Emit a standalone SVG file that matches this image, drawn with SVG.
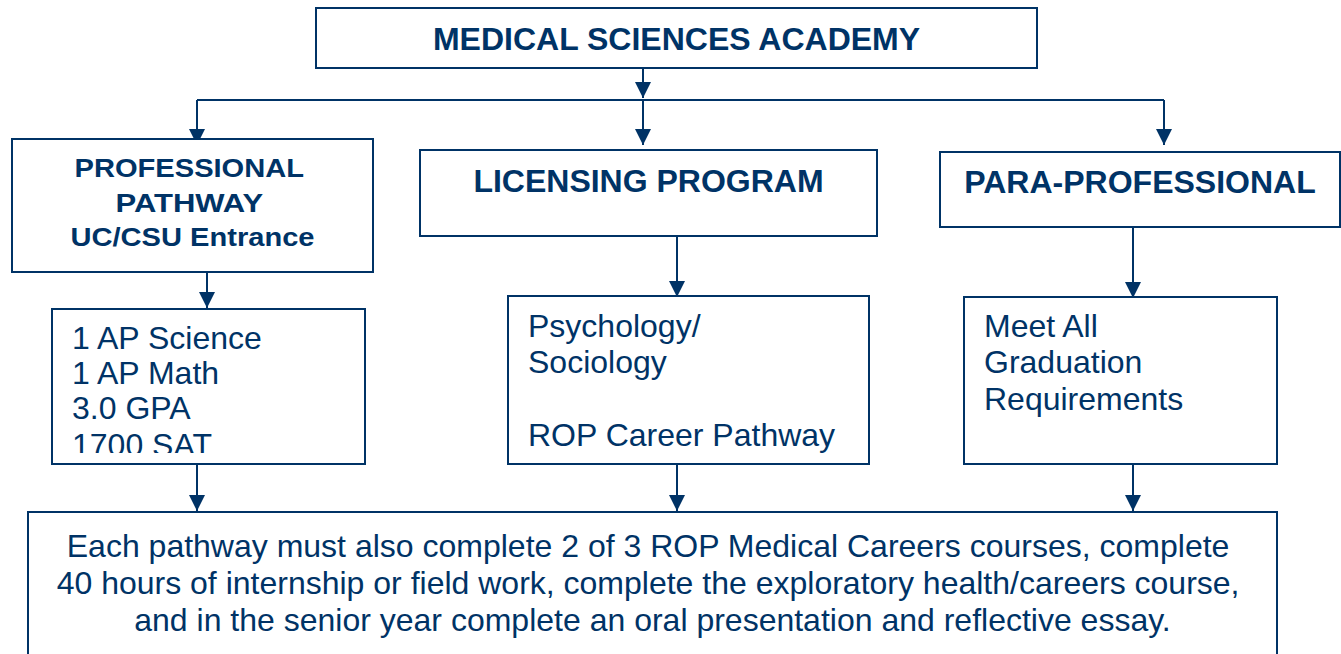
<svg xmlns="http://www.w3.org/2000/svg" width="1341" height="654" viewBox="0 0 1341 654">
<style>
.box{fill:#fff;stroke:#003366;stroke-width:2}
.ln{fill:none;stroke:#003366;stroke-width:2}
.t{font-family:"Liberation Sans",Arial,sans-serif;fill:#003366}
.b{font-weight:bold;font-size:32px}
.r{font-size:32px}
</style>
<defs>
<marker id="ah" markerUnits="userSpaceOnUse" markerWidth="16" markerHeight="16" viewBox="0 0 16 16" refX="16" refY="8" orient="auto">
<path d="M0,0 L16,8 L0,16 Z" fill="#003366"/>
</marker>
<clipPath id="cp1"><rect x="52" y="309" width="313" height="144"/></clipPath>
</defs>
<rect width="1341" height="654" fill="#fff"/>
<g id="connectors">
<path class="ln" d="M643,68 V98" marker-end="url(#ah)"/>
<path class="ln" d="M197,100 H1164"/>
<path class="ln" d="M197,100 V145" marker-end="url(#ah)"/>
<path class="ln" d="M643,100 V145" marker-end="url(#ah)"/>
<path class="ln" d="M1164,100 V145" marker-end="url(#ah)"/>
<path class="ln" d="M207,272 V308" marker-end="url(#ah)"/>
<path class="ln" d="M677,236 V297" marker-end="url(#ah)"/>
<path class="ln" d="M1133,227 V298" marker-end="url(#ah)"/>
<path class="ln" d="M197,464 V511" marker-end="url(#ah)"/>
<path class="ln" d="M677,464 V511" marker-end="url(#ah)"/>
<path class="ln" d="M1133,464 V511" marker-end="url(#ah)"/>
</g>
<g id="academy">
<rect class="box" x="316" y="8" width="721" height="60"/>
<text class="t b" x="676.5" y="50" text-anchor="middle">MEDICAL SCIENCES ACADEMY</text>
</g>
<g id="professional">
<rect class="box" x="12" y="139" width="361" height="133"/>
<text class="t" font-weight="bold" font-size="25" text-anchor="middle">
<tspan x="192.5" y="177" textLength="229" lengthAdjust="spacingAndGlyphs">PROFESSIONAL</tspan>
<tspan x="192.5" y="212" textLength="147" lengthAdjust="spacingAndGlyphs">PATHWAY</tspan>
<tspan x="192.5" y="246" textLength="244" lengthAdjust="spacingAndGlyphs">UC/CSU Entrance</tspan>
</text>
</g>
<g id="licensing">
<rect class="box" x="420" y="150" width="457" height="86"/>
<text class="t b" x="648.5" y="192" text-anchor="middle">LICENSING PROGRAM</text>
</g>
<g id="para">
<rect class="box" x="940" y="152" width="400" height="75"/>
<text class="t b" x="1140" y="193" text-anchor="middle">PARA-PROFESSIONAL</text>
</g>
<g id="prof-req">
<rect class="box" x="52" y="309" width="313" height="155"/>
<text class="t r" clip-path="url(#cp1)">
<tspan x="72" y="349">1 AP Science</tspan>
<tspan x="72" y="384">1 AP Math</tspan>
<tspan x="72" y="419">3.0 GPA</tspan>
<tspan x="72" y="456">1700 SAT</tspan>
</text>
</g>
<g id="lic-req">
<rect class="box" x="508" y="296" width="361" height="168"/>
<text class="t r">
<tspan x="528" y="337">Psychology/</tspan>
<tspan x="528" y="373">Sociology</tspan>
<tspan x="528" y="446">ROP Career Pathway</tspan>
</text>
</g>
<g id="para-req">
<rect class="box" x="964" y="297" width="313" height="167"/>
<text class="t r">
<tspan x="984" y="337">Meet All</tspan>
<tspan x="984" y="373">Graduation</tspan>
<tspan x="984" y="410">Requirements</tspan>
</text>
</g>
<g id="all-pathways">
<rect class="box" x="28" y="512" width="1249" height="200"/>
<text class="t" font-size="32" text-anchor="middle">
<tspan x="652.5" y="557">Each pathway must also complete 2 of 3 ROP Medical Careers courses, complete</tspan>
<tspan x="652.5" y="594">40 hours of internship or field work, complete the exploratory health/careers course,</tspan>
<tspan x="652.5" y="631">and in the senior year complete an oral presentation and reflective essay.</tspan>
</text>
</g>
</svg>
